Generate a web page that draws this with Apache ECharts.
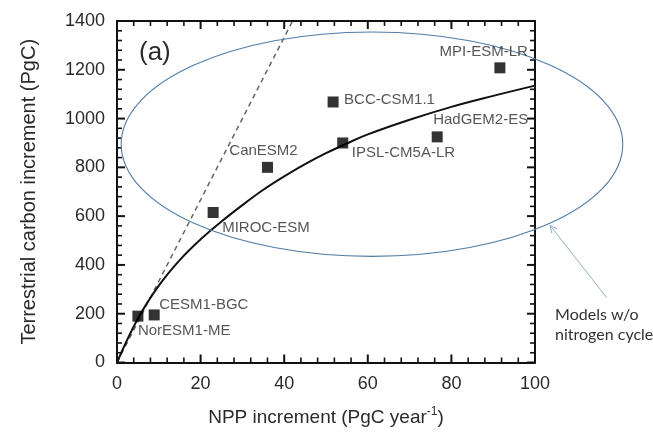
<!DOCTYPE html>
<html><head><meta charset="utf-8">
<script src="https://cdn.jsdelivr.net/npm/echarts@6/dist/echarts.min.js"></script>
<style>html,body{margin:0;padding:0;background:#fff}#c{width:653px;height:432px}</style>
</head><body><div id="c"></div>
<script>
// ---- data ----
const models = ['NorESM1-ME','CESM1-BGC','MIROC-ESM','CanESM2','BCC-CSM1.1','IPSL-CM5A-LR','HadGEM2-ES','MPI-ESM-LR'];
const nppIncrement = [5.0, 8.9, 23.0, 36.0, 51.7, 54.0, 76.6, 91.6];
const carbonIncrement = [190, 195, 615, 800, 1068, 900, 925, 1208];
const fitNpp = [0, 5, 10, 15, 20, 25, 30, 35, 40, 45, 50, 55, 60, 70, 80, 90, 100];
const fitCarbon = [0, 180, 315, 420, 505, 578, 645, 708, 763, 813, 858, 898, 935, 995, 1048, 1093, 1135];
const dashNpp = [0, 42];
const dashCarbon = [0, 1400];
const xTickValues = [0, 20, 40, 60, 80, 100];
const yTickValues = [0, 200, 400, 600, 800, 1000, 1200, 1400];
const minorPerMajor = 5;
const noteText = 'Models w/o\nnitrogen cycle';
const panelLabel = '(a)';

// ---- annotation geometry (data space) ----
const ellipseSpec = { center: [61, 895], radius: [60, 460] };
const arrowSpec = { from: [117.2, 265], to: [103.6, 562] };
const noteSpec = { at: [104.8, 236] };

// ---- label placement styles ----
const labelPlace = {
  'NorESM1-ME':   { align: 'left',   offset: [0, 15] },
  'CESM1-BGC':    { align: 'left',   offset: [5, -10] },
  'MIROC-ESM':    { align: 'left',   offset: [9, 15] },
  'CanESM2':      { align: 'center', offset: [-4, -16] },
  'BCC-CSM1.1':   { align: 'left',   offset: [11, -2] },
  'IPSL-CM5A-LR': { align: 'left',   offset: [9, 10] },
  'HadGEM2-ES':   { align: 'right',  offset: [91, -17] },
  'MPI-ESM-LR':   { align: 'right',  offset: [28, -16] }
};

const FONT = 'Liberation Sans, Arial, sans-serif';
const TXT = '#2a2a2a';
const AXIS = '#111';

const xMin = xTickValues[0], xMax = xTickValues[xTickValues.length - 1];
const yMin = yTickValues[0], yMax = yTickValues[yTickValues.length - 1];

function minorsOf(ticks) {
  const out = [];
  for (let i = 0; i < ticks.length - 1; i++) {
    const step = (ticks[i + 1] - ticks[i]) / minorPerMajor;
    for (let k = 1; k < minorPerMajor; k++) out.push(ticks[i] + k * step);
  }
  return out;
}
const xMinor = minorsOf(xTickValues);
const yMinor = minorsOf(yTickValues);

const chart = echarts.init(document.getElementById('c'), null, { renderer: 'canvas' });

function axisBase(extra) {
  return Object.assign({
    type: 'value',
    axisLine: { show: true, onZero: false, lineStyle: { color: AXIS, width: 2 } },
    axisTick: { show: false },
    minorTick: { show: false },
    splitLine: { show: false },
    minorSplitLine: { show: false }
  }, extra);
}

const scatterData = models.map((m, i) => ({
  name: m,
  value: [nppIncrement[i], carbonIncrement[i]],
  label: {
    show: true,
    formatter: m,
    position: 'inside',
    align: labelPlace[m].align,
    verticalAlign: 'middle',
    offset: labelPlace[m].offset,
    fontSize: 15,
    fontFamily: FONT,
    color: TXT
  }
}));

function tickLines(api) {
  const out = [];
  const add = (a, b, w) => out.push({ type: 'line', shape: { x1: a[0], y1: a[1], x2: b[0], y2: b[1] },
                                      style: { stroke: AXIS, lineWidth: w } });
  const xs = [[xTickValues, 8, 2], [xMinor, 5, 1.6]];
  xs.forEach(([vals, len, w]) => vals.forEach(v => {
    const b = api.coord([v, yMin]); const t = api.coord([v, yMax]);
    add(b, [b[0], b[1] - len], w);
    add(t, [t[0], t[1] + len], w);
  }));
  const ys = [[yTickValues, 8, 2], [yMinor, 5, 1.6]];
  ys.forEach(([vals, len, w]) => vals.forEach(v => {
    const l = api.coord([xMin, v]); const r = api.coord([xMax, v]);
    add(l, [l[0] + len, l[1]], w);
    add(r, [r[0] - len, r[1]], w);
  }));
  return out;
}

const option = {
  animation: false,
  backgroundColor: '#fff',
  title: {
    text: panelLabel,
    left: 139, top: 40, padding: 0,
    textStyle: { fontSize: 26, fontWeight: 'normal', fontFamily: FONT, color: TXT }
  },
  grid: { left: 117, right: 118, top: 21, bottom: 67, containLabel: false },
  xAxis: [
    axisBase({
      position: 'bottom', min: xMin, max: xMax, interval: 20,
      axisLabel: { fontSize: 18, fontFamily: FONT, color: TXT, margin: 13, formatter: v => String(v) },
      name: '{a|NPP increment (PgC year}{s|-1}{a|)}',
      nameLocation: 'middle', nameGap: 43,
      nameTextStyle: {
        rich: {
          a: { fontSize: 19, fontFamily: FONT, color: TXT, lineHeight: 24 },
          s: { fontSize: 12, fontFamily: FONT, color: TXT, verticalAlign: 'top', lineHeight: 14 }
        }
      }
    }),
    axisBase({ position: 'top', min: xMin, max: xMax, interval: 20, axisLabel: { show: false } })
  ],
  yAxis: [
    axisBase({
      position: 'left', min: yMin, max: yMax, interval: 200,
      axisLabel: { fontSize: 18, fontFamily: FONT, color: TXT, margin: 12, formatter: v => String(v) },
      name: 'Terrestrial carbon increment (PgC)',
      nameLocation: 'middle', nameGap: 78,
      nameTextStyle: { fontSize: 20, fontFamily: FONT, color: TXT }
    }),
    axisBase({ position: 'right', min: yMin, max: yMax, interval: 200, axisLabel: { show: false } })
  ],
  series: [
    {
      type: 'line',
      data: dashNpp.map((x, i) => [x, dashCarbon[i]]),
      showSymbol: false,
      lineStyle: { color: '#666', width: 1.5, type: [5, 4] },
      z: 2
    },
    {
      type: 'line',
      data: fitNpp.map((x, i) => [x, fitCarbon[i]]),
      smooth: 0.4,
      showSymbol: false,
      lineStyle: { color: '#111', width: 2 },
      z: 3
    },
    {
      type: 'scatter',
      symbol: 'rect',
      symbolSize: 11,
      itemStyle: { color: '#000' },
      data: scatterData,
      z: 5
    },
    {
      type: 'custom',
      coordinateSystem: 'cartesian2d',
      clip: false,
      silent: true,
      z: 4,
      data: [[0, 0]],
      renderItem: function (params, api) {
        const c = api.coord(ellipseSpec.center);
        const r = api.size(ellipseSpec.radius);
        const p0 = api.coord(arrowSpec.from);
        const p1 = api.coord(arrowSpec.to);
        const ang = Math.atan2(p1[1] - p0[1], p1[0] - p0[0]);
        const hl = 8, ha = Math.PI / 7;
        const h1 = [p1[0] - hl * Math.cos(ang - ha), p1[1] - hl * Math.sin(ang - ha)];
        const h2 = [p1[0] - hl * Math.cos(ang + ha), p1[1] - hl * Math.sin(ang + ha)];
        const t = api.coord(noteSpec.at);
        return {
          type: 'group',
          children: tickLines(api).concat([
            { type: 'ellipse', shape: { cx: c[0], cy: c[1], rx: r[0], ry: r[1] },
              style: { fill: 'none', stroke: '#4f7ca8', lineWidth: 1.1 } },
            { type: 'line', shape: { x1: p0[0], y1: p0[1], x2: p1[0], y2: p1[1] },
              style: { stroke: '#93aecb', lineWidth: 1 } },
            { type: 'polyline', shape: { points: [h1, p1, h2] },
              style: { fill: 'none', stroke: '#93aecb', lineWidth: 1 } },
            { type: 'text', x: t[0], y: t[1],
              style: { text: noteText, font: '16px Lato, sans-serif', fill: '#333', lineHeight: 20,
                       align: 'left', verticalAlign: 'top' } }
          ])
        };
      }
    }
  ]
};
chart.setOption(option);
</script>
</body></html>
